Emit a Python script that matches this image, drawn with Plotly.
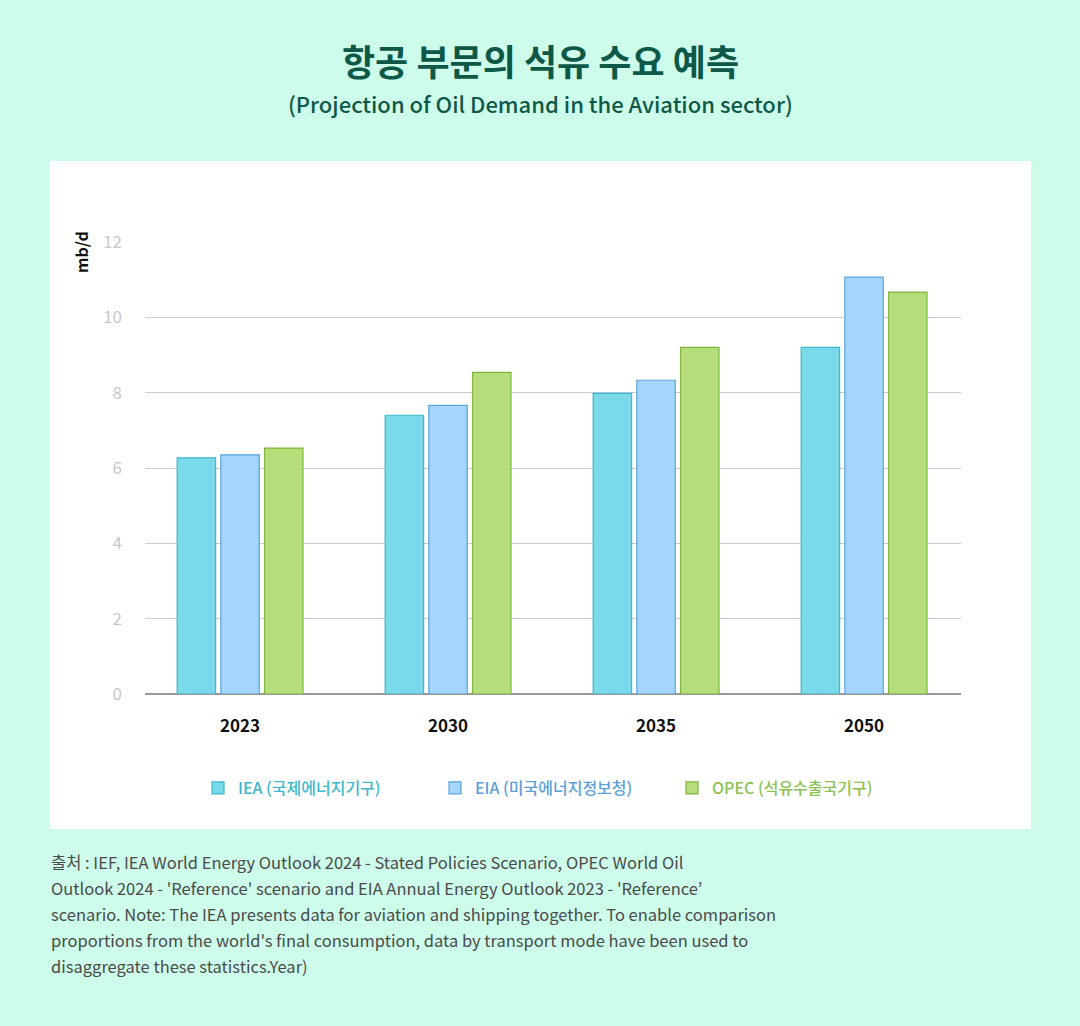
import plotly.graph_objects as go

years = ["2023", "2030", "2035", "2050"]
iea = [6.27, 7.40, 7.98, 9.20]
eia = [6.35, 7.66, 8.33, 11.07]
opec = [6.53, 8.54, 9.20, 10.67]
y_ticks = [0, 2, 4, 6, 8, 10, 12]

W, H = 1080, 1026
FONT = "Noto Sans CJK KR"

series = [
    ("IEA (국제에너지기구)", iea, "#7ADAEA", "#3DB8CC", "#3DB8CC"),
    ("EIA (미국에너지정보청)", eia, "#A3D5FD", "#5BA5DA", "#5B9FD8"),
    ("OPEC (석유수출국기구)", opec, "#B5DE7B", "#7FB23E", "#8CC24F"),
]

fig = go.Figure()
for name, vals, fill, line, tcol in series:
    fig.add_trace(go.Bar(
        x=years, y=vals,
        name=f"<span style='color:{tcol}'>{name}</span>",
        marker=dict(color=fill, line=dict(color=line, width=1.2)),
        hoverinfo="x+y",
    ))

def px(x):
    return x / W

def py(y):
    return 1 - y / H

fig.update_layout(
    width=W, height=H,
    margin=dict(l=0, r=0, t=0, b=0, autoexpand=False),
    paper_bgcolor="#CDFCEB",
    plot_bgcolor="rgba(0,0,0,0)",
    font=dict(family=FONT, color="#222"),
    barmode="group",
    bargap=0.37,
    bargroupgap=0.12,
    showlegend=True,
    legend=dict(
        orientation="h", x=px(198), xanchor="left", y=py(788), yanchor="middle",
        font=dict(size=16, family=FONT, weight=500), itemwidth=30,
        entrywidth=192, entrywidthmode="pixels",
        bgcolor="rgba(0,0,0,0)", tracegroupgap=0,
    ),
    xaxis=dict(
        domain=[px(145), px(961)],
        range=[-0.457, 3.466],
        tickfont=dict(size=17, color="#111", family=FONT, weight=600),
        ticks="", showgrid=False, showline=False,
        ticklabelstandoff=20,
    ),
    yaxis=dict(
        domain=[py(694), py(242)],
        range=[0, 12],
        tickvals=y_ticks,
        tickfont=dict(size=17, color="#C8C8C8", family=FONT),
        gridcolor="#CCCCCC", gridwidth=1,
        zeroline=True, zerolinecolor="#999999", zerolinewidth=1.5,
        ticklabelstandoff=22,
        showline=False,
    ),
    shapes=[
        dict(type="rect", xref="paper", yref="paper",
             x0=px(50), x1=px(1031), y0=py(829), y1=py(161),
             fillcolor="white", line=dict(width=0), layer="below"),
    ],
)

annotations = [
    dict(text="<b>항공 부문의 석유 수요 예측</b>", x=0.5, y=py(60), xref="paper", yref="paper",
         showarrow=False, font=dict(size=36, color="#0E5848", family=FONT), yanchor="middle"),
    dict(text="(Projection of Oil Demand in the Aviation sector)", x=0.5, y=py(103), xref="paper", yref="paper",
         showarrow=False, font=dict(size=22, color="#0E5848", family=FONT, weight=500), yanchor="middle"),
    dict(text="mb/d", x=px(81), y=py(252), xref="paper", yref="paper", textangle=-90,
         showarrow=False, font=dict(size=16, color="#111", family=FONT, weight=600), xanchor="center", yanchor="middle"),
]

foot_lines = [
    "출처 : IEF, IEA World Energy Outlook 2024 - Stated Policies Scenario, OPEC World Oil",
    "Outlook 2024 - 'Reference' scenario and EIA Annual Energy Outlook 2023 - 'Reference’",
    "scenario. Note: The IEA presents data for aviation and shipping together. To enable comparison",
    "proportions from the world's final consumption, data by transport mode have been used to",
    "disaggregate these statistics.Year)",
]
for i, line in enumerate(foot_lines):
    annotations.append(dict(
        text=line, x=px(49), y=py(862 + 26 * i), xref="paper", yref="paper",
        showarrow=False, xanchor="left", yanchor="middle",
        font=dict(size=16.5, color="#4A4A4A", family=FONT),
    ))

fig.update_layout(annotations=annotations)
fig.write_html(
    "out.html",
    config={"displayModeBar": False},
    post_script="document.body.style.margin='0';document.body.style.overflow='hidden';",
)
